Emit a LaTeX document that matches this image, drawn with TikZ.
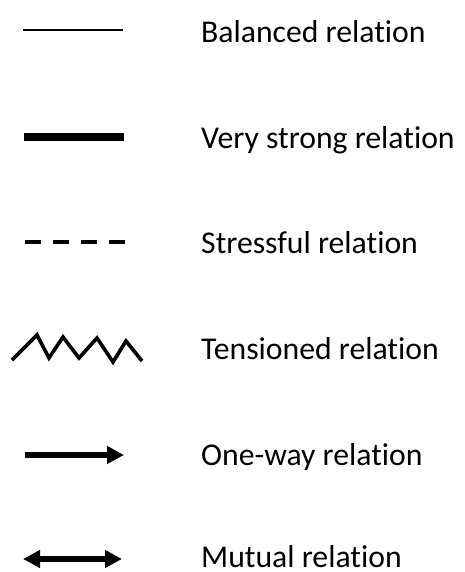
\documentclass[tikz,border=0pt]{standalone}
\usepackage{fontspec}
\setmainfont{Carlito}[RawFeature={-liga;-clig;-calt}]
\usetikzlibrary{arrows.meta}

\begin{document}
\begin{tikzpicture}[x=1pt,y=-1pt,
  lbl/.style={anchor=base west,inner sep=0pt,font=\fontsize{31.7}{38}\selectfont},
  reltip/.tip={Triangle[length=17pt,width=17pt]}]
 \useasboundingbox (0,0) rectangle (464,572);
 % sample lines
 \coordinate (bal1) at (23,30);  \coordinate (bal2) at (123,30);
 \coordinate (str1) at (24,137); \coordinate (str2) at (124,137);
 \coordinate (sts1) at (25,242); \coordinate (sts2) at (125,242);
 \coordinate (one1) at (25,455); \coordinate (one2) at (124,455);
 \coordinate (mut1) at (23,559); \coordinate (mut2) at (122,559);
 \draw[line width=1.5pt] (bal1)--(bal2);
 \draw[line width=7.4pt] (str1)--(str2);
 \draw[line width=4pt,dash pattern=on 16pt off 12pt] (sts1)--(sts2);
 \draw[line width=3.6pt] (12,360) -- (37,335) -- (49,358) -- (63,337) -- (79,358)
   -- (97,338) -- (113,362) -- (126,341) -- (142,361);
 \draw[line width=6pt,-reltip] (one1)--(one2);
 \draw[line width=5.5pt,reltip-reltip] (mut1)--(mut2);
 % labels
 \node[lbl] (tbal) at (201,43)  {Balanced relation};
 \node[lbl] (tstr) at (201,149) {Very strong relation};
 \node[lbl] (tsts) at (201,253) {Stressful relation};
 \node[lbl] (tten) at (201,359) {Tensioned relation};
 \node[lbl] (tone) at (201,465) {One-way relation};
 \node[lbl] (tmut) at (201,567) {Mutual relation};
\end{tikzpicture}
\end{document}
